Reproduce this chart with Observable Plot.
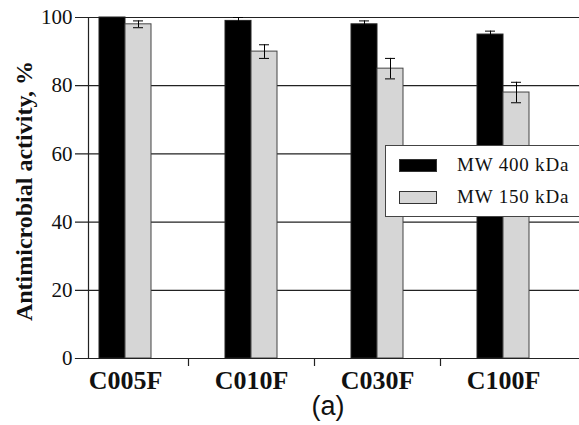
<!DOCTYPE html>
<html><head><meta charset="utf-8">
<script src="https://cdn.jsdelivr.net/npm/d3@7"></script>
<script src="https://cdn.jsdelivr.net/npm/@observablehq/plot@0.6"></script>
<style>
body{margin:0;background:#fff;}
#wrap{position:relative;width:579px;height:425px;overflow:hidden;}
#legend{position:absolute;left:385px;top:145px;width:200px;height:70px;border:1px solid #444;background:#fff;font-family:"Liberation Serif","Times New Roman",serif;font-size:19px;letter-spacing:0.8px;color:#111;}
.row{position:absolute;left:13px;display:flex;align-items:center;}
.sw{width:36px;height:11px;border:1px solid #333;margin-right:20px;}
</style></head>
<body>
<div id="wrap"></div>
<script>
const categories = ["C005F","C010F","C030F","C100F"];
const series = ["MW 400 kDa","MW 150 kDa"];
const mw400 = [100, 99, 98, 95];
const mw400err = [0, 1, 1, 1];
const mw150 = [98, 90, 85, 78];
const mw150err = [1, 2, 3, 3];
const yTicks = [0, 20, 40, 60, 80, 100];
const colors = ["#000000", "#d6d6d6"];
const yTitle = "Antimicrobial activity, %";
const caption = "(a)";

const rows400 = categories.map((c,i)=>({cat:c, series:series[0], value:mw400[i], err:mw400err[i]}));
const rows150 = categories.map((c,i)=>({cat:c, series:series[1], value:mw150[i], err:mw150err[i]}));
const serif = "'Liberation Serif', 'Times New Roman', serif";

const plot = Plot.plot({
  width: 579, height: 425,
  marginTop: 17, marginBottom: 67, marginLeft: 88, marginRight: 0,
  style: {background: "#fff", color: "#111", fontFamily: serif},
  x: {type: "band", domain: categories, range: [62, 566], padding: 0},
  y: {domain: [0, 100]},
  color: {domain: series, range: colors},
  marks: [
    Plot.ruleY(yTicks, {stroke: "#222", strokeWidth: 1.2, insetLeft: -13}),
    Plot.barY(rows400, {x: "cat", y: "value", fill: "series", stroke: "#222", strokeWidth: 1, insetLeft: 37, insetRight: 63}),
    Plot.barY(rows150, {x: "cat", y: "value", fill: "series", stroke: "#444", strokeWidth: 1, insetLeft: 63, insetRight: 37}),
    Plot.ruleX(rows400.filter(d=>d.err>0), {x: "cat", y1: d=>d.value-d.err, y2: d=>d.value+d.err, dx: -13, stroke: "#000"}),
    Plot.tickY(rows400.filter(d=>d.err>0), {x: "cat", y: d=>d.value+d.err, insetLeft: 45, insetRight: 71, stroke: "#000"}),
    Plot.ruleX(rows150.filter(d=>d.err>0), {x: "cat", y1: d=>d.value-d.err, y2: d=>d.value+d.err, dx: 13, stroke: "#000"}),
    Plot.tickY(rows150.filter(d=>d.err>0), {x: "cat", y: d=>d.value+d.err, insetLeft: 71, insetRight: 45, stroke: "#000"}),
    Plot.tickY(rows150.filter(d=>d.err>0), {x: "cat", y: d=>d.value-d.err, insetLeft: 71, insetRight: 45, stroke: "#000"}),
    Plot.frame({anchor: "left", stroke: "#222", strokeWidth: 1.2}),
    Plot.frame({anchor: "bottom", stroke: "#222", strokeWidth: 1.2, insetLeft: -13}),
    Plot.ruleX(categories.slice(1), {x: d=>d, y1: 0, y2: 0, dx: -63, insetBottom: -8, stroke: "#222", strokeWidth: 1.2}),
    Plot.axisY({ticks: yTicks, tickSize: 0, tickPadding: 16, fontSize: 21, fontFamily: serif, label: null}),
    Plot.axisX({tickSize: 0, tickPadding: 12, fontSize: 26, fontWeight: "bold", fontFamily: serif, label: null}),
    Plot.text([yTitle], {text: d=>d, frameAnchor: "left", textAnchor: "middle", rotate: -90, dx: -64, dy: 3, fontSize: 24, fontWeight: "bold", fontFamily: serif, fill: "#111"}),
    Plot.text([caption], {text: d=>d, frameAnchor: "bottom", dx: -6, dy: 56, fontSize: 27, fontFamily: "'Liberation Sans', Arial, sans-serif", fill: "#111"})
  ]
});
const wrap = document.getElementById("wrap");
wrap.appendChild(plot);
const leg = document.createElement("div");
leg.id = "legend";
series.forEach((s,i)=>{
  const r = document.createElement("div");
  r.className = "row";
  r.style.top = (8 + i*32) + "px";
  const sw = document.createElement("div");
  sw.className = "sw"; sw.style.background = colors[i];
  const t = document.createElement("span");
  t.textContent = s;
  r.appendChild(sw); r.appendChild(t);
  leg.appendChild(r);
});
wrap.appendChild(leg);
</script>
</body></html>
